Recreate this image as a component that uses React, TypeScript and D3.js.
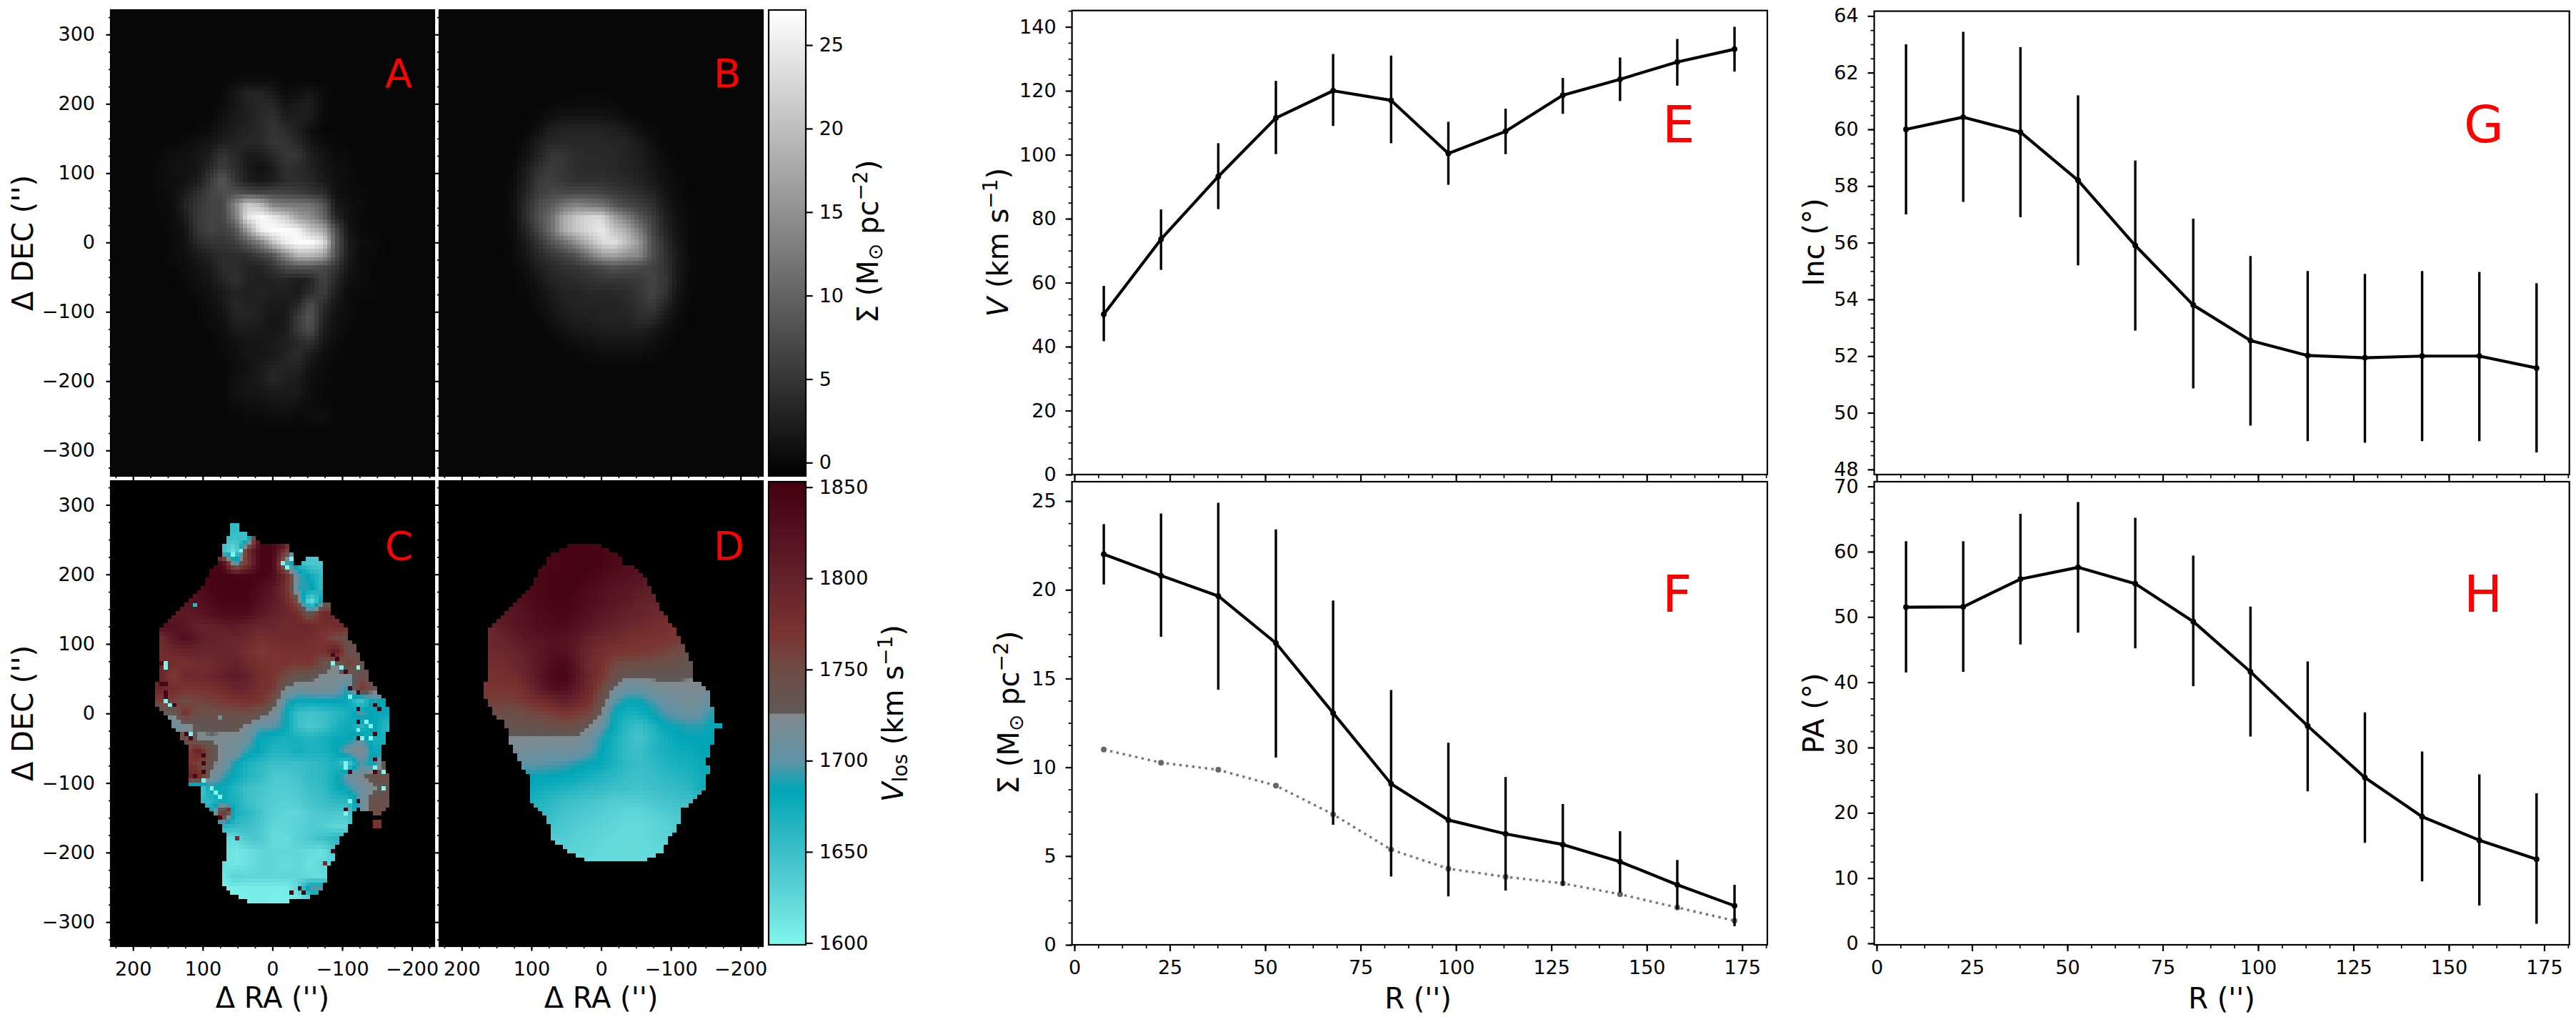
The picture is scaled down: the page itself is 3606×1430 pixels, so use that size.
import { useEffect, useRef } from "react";
import * as d3 from "d3";

// radial profiles
const R_ARCSEC = [7.7, 22.7, 37.7, 52.8, 67.8, 83, 98, 113, 128, 143, 158, 173];
const V_MEAN = [50.1, 73.6, 93.2, 111.5, 120, 117, 100.4, 107.3, 118.6, 123.6, 129, 133];
const V_LOW = [41.7, 64, 83, 100.2, 109, 103.6, 90.6, 100.2, 112.8, 116.8, 121.6, 126];
const V_HIGH = [59, 82.9, 103.6, 123.1, 131.5, 131, 110.3, 114.4, 124, 130.4, 136.2, 140];
const SIGMA_MEAN = [22, 20.8, 19.65, 17, 13.06, 9.07, 7.03, 6.25, 5.65, 4.68, 3.38, 2.2];
const SIGMA_LOW = [20.3, 17.35, 14.37, 10.55, 6.76, 3.85, 2.73, 3.06, 3.34, 2.94, 2, 1.05];
const SIGMA_HIGH = [23.7, 24.3, 24.9, 23.4, 19.4, 14.35, 11.38, 9.45, 7.93, 6.4, 4.78, 3.38];
const SIGMA_DOTTED = [11, 10.26, 9.86, 8.97, 7.35, 5.36, 4.29, 3.83, 3.46, 2.85, 2.1, 1.36];
const INC_MEAN = [60, 60.43, 59.9, 58.2, 55.9, 53.8, 52.55, 52.02, 51.94, 52, 52, 51.58];
const INC_LOW = [57, 57.44, 56.9, 55.2, 52.9, 50.86, 49.55, 49, 48.94, 49, 49, 48.6];
const INC_HIGH = [63, 63.44, 62.9, 61.2, 58.9, 56.85, 55.53, 55, 54.9, 55, 54.97, 54.57];
const PA_MEAN = [51.5, 51.55, 55.8, 57.6, 55.1, 49.3, 41.6, 33.3, 25.4, 19.4, 15.8, 12.9];
const PA_LOW = [41.5, 41.6, 45.8, 47.6, 45.2, 39.4, 31.7, 23.3, 15.4, 9.5, 5.8, 3];
const PA_HIGH = [61.6, 61.6, 65.8, 67.6, 65.2, 59.4, 51.6, 43.2, 35.4, 29.4, 25.9, 23];

// map samples: columns are RA 180..-180, rows are DEC 270..-270, both every 18''
const GRID_RA = d3.range(180, -181, -18);
const GRID_DEC = d3.range(270, -271, -18);

const MAP_A = [
  [0,0,0,0,0,0,0,0,0,0,0,0,0,0,0,0,0,0,0,0,0],
  [0,0,0,0,0,0,0,0,0,0,0,0,0,0,0,0,0,0,0,0,0],
  [0,0,0,0,0,0,0,.5,.5,.5,.5,0,0,0,0,0,0,0,0,0,0],
  [0,0,0,0,0,0,.3,1.5,3,3,2,.5,1,1.5,.5,0,0,0,0,0,0],
  [0,0,0,0,0,0,.5,1.5,2.5,3.5,3.5,1.5,2,2.5,.5,0,0,0,0,0,0],
  [0,0,0,0,0,0,1,2,2.5,3.5,4.5,2.5,2.5,2,.3,0,0,0,0,0,0],
  [0,0,0,0,.2,.5,1.5,2.5,3,3.5,5,4,2.5,1,0,0,0,0,0,0,0],
  [0,0,0,.5,1,1.5,2.5,3,3.5,3.5,5,5,3.5,1.5,.5,.3,0,0,0,0,0],
  [0,.3,.7,1,1.5,2.5,5,3.5,2,2,3.5,5,5,2.5,1.5,.3,.3,0,0,0,0],
  [0,.5,1,1,1.5,3.5,6,4,2,1,2,4.5,4,3,1.5,.8,.5,0,0,0,0],
  [0,.5,.8,1.2,2,5.5,8.5,5,2.5,1.5,2.5,4,4,3.5,2,1,.5,0,0,0,0],
  [0,.3,.8,2,4,6.5,7.5,8,7,6.5,6.5,6.5,6,5,4,1,.5,.3,0,0,0],
  [0,.2,.5,3,5,6.5,6.5,14,22,20,14,13,12.5,12,9,2,1,.5,0,0,0],
  [0,.1,.5,2,5.5,6.5,6.5,12,24,27,25,22,17,15,11,3.5,1,.3,0,0,0],
  [0,0,.5,1,5,6.5,6,8,16,25,27,27,26,21,18,8,1.5,.3,0,0,0],
  [0,0,.5,1,3.5,5,5,6,9,13,20,25,27,27,24,9,2,.7,.5,0,0],
  [0,0,.5,.8,2,3,4,4,4,6,8,14,19,19,17,8,2,.3,.3,0,0],
  [0,0,0,.5,1.2,2,4,4,3,3,4.5,7,8,8,7,5,1.5,.5,0,0,0],
  [0,0,0,.3,1,1.5,3,4.5,3,2.5,3,3,2,3,6.5,3.5,1,.5,0,0,0],
  [0,0,0,0,.5,1,2,3,2.5,3,2.5,2.5,2,4,6,2.5,.5,.3,.3,0,0],
  [0,0,0,0,0,.7,1.5,3.5,3,2.5,2,2,3.5,7.5,4,1.5,.5,0,0,0,0],
  [0,0,0,0,0,.5,1,3,3,2.5,1.5,1.8,5.5,8.5,3,1,.5,0,0,0,0],
  [0,0,0,0,0,.2,.7,2,2,2,1.5,2,5.5,7.5,2.5,.8,.3,0,0,0,0],
  [0,0,0,0,0,0,.5,1,1.5,1.5,2,2.5,3.5,4.5,1.5,.5,0,0,0,0,0],
  [0,0,0,0,0,0,.3,.7,1.5,1.5,1.8,3,4,2,.8,.3,0,0,0,0,0],
  [0,0,0,0,0,0,0,.5,1,2,3,3,3,1.2,.5,0,0,0,0,0,0],
  [0,0,0,0,0,0,0,1,1.5,2,3.5,2.5,2,.8,.3,0,0,0,0,0,0],
  [0,0,0,0,0,0,0,1,1.5,1.5,2,2,2,.7,.2,0,0,0,0,0,0],
  [0,0,0,0,0,0,0,.5,.7,.8,1.2,1.5,1,.5,.3,0,0,0,0,0,0],
  [0,0,0,0,0,0,0,0,.3,.3,.5,.5,.3,.5,1,0,0,0,0,0,0],
  [0,0,0,0,0,0,0,0,0,0,0,0,0,0,0,0,0,0,0,0,0],
];

const MAP_B = [
  [0,0,0,0,0,0,0,0,0,0,0,0,0,0,0,0,0,0,0,0,0],
  [0,0,0,0,0,0,0,0,0,0,0,0,0,0,0,0,0,0,0,0,0],
  [0,0,0,0,0,0,0,0,0,0,0,0,0,0,0,0,0,0,0,0,0],
  [0,0,0,0,0,0,0,0,0,0,0,0,0,0,0,0,0,0,0,0,0],
  [0,0,0,0,0,0,.2,.3,.5,.5,.5,.3,0,0,0,0,0,0,0,0,0],
  [0,0,0,0,0,.3,1,1.5,1.5,1.5,1.5,1.2,.5,.2,0,0,0,0,0,0,0],
  [0,0,0,0,.1,1,2.5,3,3,3,3,2.5,2,1,.3,0,0,0,0,0,0],
  [0,0,0,0,.6,2.5,3.5,3.5,3.5,3.5,3.5,3.2,3,2,.8,.2,0,0,0,0,0],
  [0,0,0,.1,1,3,5,5,4,3.8,3.8,3.5,3,2.5,1.3,.4,0,0,0,0,0],
  [0,0,0,.3,2,4.5,5.5,5,4,3.8,3.8,3.5,3,2.5,1.7,.7,.2,0,0,0,0],
  [0,0,0,.5,2.5,5.5,6,5,4.5,4.5,4.5,4,3.5,3,2,1,.3,0,0,0,0],
  [0,0,0,.7,3,6,7,7,7,7,6.5,5.5,5,4,3,1.5,.5,0,0,0,0],
  [0,0,0,.7,4,7.5,9,12,14,13,12,9,7,6,4.5,2,.7,.2,0,0,0],
  [0,0,0,.7,4,8,11,18,21,23,23,17,13,9,6,3,1,.3,0,0,0],
  [0,0,0,.5,3,7,11,18,21,23,25,21,18,13,7,3.5,1.2,.3,0,0,0],
  [0,0,0,.4,2,5,8,11,15,19,23,24,20,16,8,4.5,1.5,.4,0,0,0],
  [0,0,0,.3,1.5,3.5,5,6.5,8,12,16,17,15,14,8,5,2,.4,0,0,0],
  [0,0,0,.2,.8,2.5,3.5,4.5,5,6,7,8,7.5,7,6.5,5,2,.4,0,0,0],
  [0,0,0,0,.5,1.5,3,3.5,4,4.5,5,5,5,5.5,6.5,5.5,2,.3,0,0,0],
  [0,0,0,0,.2,1,2,3,3,3.5,3.5,3.5,4,5,6.5,5,1.5,.2,0,0,0],
  [0,0,0,0,0,.6,1.5,2.5,3,3,3,3,3.5,4.5,5.5,3.5,1,0,0,0,0],
  [0,0,0,0,0,.2,1,2,2.5,2.5,3,3,3,4,4,2,.5,0,0,0,0],
  [0,0,0,0,0,0,.4,1,1.8,2,2.2,2.5,2.5,2.5,2,.8,.2,0,0,0,0],
  [0,0,0,0,0,0,0,.4,.8,1,1.5,1.5,1.5,1.5,1,.3,0,0,0,0,0],
  [0,0,0,0,0,0,0,0,.2,.4,.6,.7,.7,.6,.3,0,0,0,0,0,0],
  [0,0,0,0,0,0,0,0,0,0,.1,.1,.1,0,0,0,0,0,0,0,0],
  [0,0,0,0,0,0,0,0,0,0,0,0,0,0,0,0,0,0,0,0,0],
  [0,0,0,0,0,0,0,0,0,0,0,0,0,0,0,0,0,0,0,0,0],
  [0,0,0,0,0,0,0,0,0,0,0,0,0,0,0,0,0,0,0,0,0],
  [0,0,0,0,0,0,0,0,0,0,0,0,0,0,0,0,0,0,0,0,0],
  [0,0,0,0,0,0,0,0,0,0,0,0,0,0,0,0,0,0,0,0,0],
];

const MAP_C = [
  [1830,1830,1830,1830,1830,1830,1655,1655,1655,1830,1830,1830,1830,1830,1830,1830,1830,1830,1830,1830,1830],
  [1830,1830,1830,1830,1830,1830,1650,1650,1650,1840,1845,1845,1650,1650,1650,1650,1650,1650,1650,1650,1650],
  [1830,1830,1830,1830,1830,1830,1650,1610,1780,1845,1845,1770,1650,1640,1640,1640,1640,1640,1640,1640,1640],
  [1840,1840,1840,1840,1840,1840,1840,1700,1770,1845,1845,1700,1660,1640,1640,1640,1640,1640,1640,1640,1640],
  [1845,1845,1845,1845,1845,1845,1848,1845,1845,1845,1835,1790,1700,1680,1650,1650,1650,1650,1650,1650,1650],
  [1830,1830,1830,1830,1830,1845,1848,1848,1845,1835,1815,1780,1690,1690,1650,1650,1650,1650,1650,1650,1650],
  [1825,1825,1825,1815,1825,1835,1845,1845,1845,1825,1810,1790,1740,1610,1700,1700,1700,1700,1700,1700,1700],
  [1810,1810,1810,1810,1815,1825,1835,1835,1835,1815,1800,1795,1780,1730,1790,1790,1790,1790,1790,1790,1790],
  [1825,1825,1825,1815,1800,1800,1805,1810,1800,1790,1795,1780,1790,1790,1775,1780,1780,1780,1780,1780,1780],
  [1780,1780,1810,1830,1810,1800,1795,1795,1790,1775,1780,1785,1785,1780,1770,1750,1740,1740,1740,1740,1740],
  [1780,1780,1790,1795,1795,1795,1795,1790,1775,1765,1770,1775,1775,1775,1770,1810,1740,1740,1740,1740,1740],
  [1780,1780,1780,1775,1780,1785,1795,1800,1785,1775,1770,1770,1765,1770,1745,1720,1760,1740,1740,1740,1740],
  [1800,1800,1760,1790,1785,1790,1800,1810,1800,1780,1770,1750,1735,1730,1720,1722,1715,1740,1740,1740,1740],
  [1790,1790,1780,1770,1770,1775,1780,1795,1790,1775,1770,1725,1715,1720,1720,1715,1690,1770,1740,1740,1740],
  [1760,1760,1760,1750,1755,1760,1765,1770,1775,1770,1745,1695,1680,1680,1682,1683,1680,1640,1690,1680,1680],
  [1725,1725,1725,1775,1745,1740,1745,1745,1750,1735,1720,1685,1650,1645,1650,1660,1670,1700,1680,1680,1680],
  [1710,1710,1710,1710,1730,1733,1735,1733,1720,1700,1700,1685,1650,1640,1650,1665,1680,1660,1690,1660,1660],
  [1750,1750,1750,1750,1722,1722,1720,1718,1710,1680,1675,1670,1670,1665,1670,1680,1680,1700,1670,1670,1670],
  [1735,1735,1735,1735,1800,1740,1720,1715,1690,1680,1665,1665,1675,1668,1670,1680,1710,1730,1680,1680,1680],
  [1780,1780,1780,1780,1760,1735,1715,1685,1668,1660,1650,1650,1650,1655,1660,1670,1640,1700,1680,1745,1745],
  [1790,1790,1790,1790,1790,1720,1695,1680,1665,1655,1640,1640,1645,1655,1660,1675,1710,1720,1740,1745,1745],
  [1620,1620,1620,1620,1620,1680,1680,1665,1650,1645,1635,1635,1640,1650,1655,1675,1690,1710,1720,1740,1740],
  [1660,1660,1660,1660,1660,1660,1680,1670,1650,1640,1635,1630,1635,1645,1650,1660,1660,1700,1740,1740,1740],
  [1670,1670,1670,1670,1670,1670,1780,1670,1660,1645,1630,1625,1625,1635,1640,1640,1640,1700,1745,1745,1745],
  [1660,1660,1660,1660,1660,1660,1660,1655,1650,1640,1625,1625,1630,1635,1635,1625,1625,1700,1745,1745,1745],
  [1620,1620,1620,1620,1620,1620,1620,1620,1640,1640,1620,1620,1630,1640,1650,1660,1660,1660,1660,1660,1660],
  [1620,1620,1620,1620,1620,1620,1620,1610,1615,1625,1625,1625,1625,1620,1615,1640,1640,1640,1640,1640,1640],
  [1620,1620,1620,1620,1620,1620,1620,1610,1615,1625,1625,1620,1625,1615,1625,1625,1625,1625,1625,1625,1625],
  [1610,1610,1610,1610,1610,1610,1610,1630,1625,1625,1625,1625,1625,1620,1620,1620,1620,1620,1620,1620,1620],
  [1605,1605,1605,1605,1605,1605,1605,1605,1605,1608,1605,1605,1625,1700,1700,1700,1700,1700,1700,1700,1700],
  [1605,1605,1605,1605,1605,1605,1605,1605,1605,1605,1605,1605,1605,1605,1605,1605,1605,1605,1605,1605,1605],
];

const MAP_D = [
  [1845,1845,1845,1845,1845,1845,1845,1845,1845,1845,1845,1845,1845,1845,1845,1845,1845,1845,1845,1845,1845],
  [1845,1845,1845,1845,1845,1845,1845,1845,1845,1845,1845,1845,1845,1845,1845,1845,1845,1845,1845,1845,1845],
  [1845,1845,1845,1845,1845,1845,1845,1845,1846,1846,1845,1840,1835,1830,1830,1830,1830,1830,1830,1830,1830],
  [1840,1840,1840,1840,1840,1840,1840,1845,1848,1848,1845,1838,1832,1825,1825,1825,1825,1825,1825,1825,1825],
  [1840,1840,1840,1840,1840,1840,1845,1848,1848,1845,1838,1830,1825,1820,1815,1815,1815,1815,1815,1815,1815],
  [1835,1835,1835,1835,1835,1840,1845,1848,1845,1835,1828,1822,1815,1810,1805,1805,1805,1805,1805,1805,1805],
  [1825,1825,1825,1825,1830,1838,1845,1845,1840,1830,1825,1815,1810,1800,1798,1795,1795,1795,1795,1795,1795],
  [1815,1815,1815,1820,1825,1835,1840,1842,1835,1825,1815,1808,1800,1795,1790,1785,1780,1780,1780,1780,1780],
  [1790,1790,1805,1815,1822,1830,1835,1835,1825,1815,1805,1800,1790,1785,1782,1775,1770,1770,1770,1770,1770],
  [1790,1790,1795,1805,1815,1820,1825,1825,1815,1800,1790,1785,1778,1773,1772,1770,1765,1760,1760,1760,1760],
  [1785,1785,1790,1795,1805,1815,1825,1825,1810,1790,1780,1770,1768,1768,1765,1760,1750,1745,1745,1745,1745],
  [1780,1780,1780,1790,1800,1815,1830,1840,1815,1785,1775,1755,1750,1748,1745,1742,1740,1735,1735,1735,1735],
  [1772,1772,1775,1780,1795,1815,1835,1845,1820,1790,1770,1745,1728,1727,1730,1730,1728,1727,1727,1727,1727],
  [1770,1770,1768,1770,1782,1805,1825,1830,1810,1785,1755,1720,1708,1708,1715,1720,1722,1722,1722,1720,1720],
  [1762,1762,1760,1760,1768,1778,1790,1800,1790,1775,1740,1700,1685,1685,1695,1705,1712,1718,1712,1695,1695],
  [1745,1745,1745,1745,1750,1755,1760,1770,1765,1755,1725,1682,1670,1672,1684,1695,1703,1708,1702,1688,1688],
  [1735,1735,1735,1735,1738,1738,1745,1745,1742,1727,1705,1680,1660,1650,1665,1683,1686,1690,1690,1680,1680],
  [1722,1722,1722,1722,1725,1725,1722,1722,1722,1712,1690,1672,1655,1645,1660,1672,1682,1684,1684,1684,1684],
  [1720,1720,1720,1720,1715,1712,1710,1712,1710,1702,1684,1670,1655,1650,1662,1670,1675,1678,1684,1684,1684],
  [1702,1702,1702,1702,1702,1700,1698,1695,1690,1684,1680,1668,1658,1652,1657,1665,1670,1672,1680,1680,1680],
  [1686,1686,1686,1686,1686,1684,1684,1682,1678,1672,1665,1660,1652,1650,1652,1658,1662,1666,1675,1675,1675],
  [1680,1680,1680,1680,1680,1675,1672,1668,1662,1658,1655,1650,1648,1645,1648,1652,1655,1660,1675,1675,1675],
  [1672,1672,1672,1672,1672,1665,1660,1652,1648,1645,1640,1635,1635,1635,1640,1645,1648,1650,1650,1650,1650],
  [1660,1660,1660,1660,1660,1660,1652,1645,1640,1638,1632,1628,1625,1625,1630,1635,1640,1640,1640,1640,1640],
  [1645,1645,1645,1645,1645,1645,1645,1640,1635,1630,1628,1625,1622,1622,1625,1630,1635,1635,1635,1635,1635],
  [1635,1635,1635,1635,1635,1635,1635,1635,1630,1628,1625,1622,1620,1620,1625,1628,1628,1628,1628,1628,1628],
  [1628,1628,1628,1628,1628,1628,1628,1628,1628,1625,1622,1620,1620,1620,1622,1622,1622,1622,1622,1622,1622],
  [1620,1620,1620,1620,1620,1620,1620,1620,1620,1620,1620,1620,1620,1620,1620,1620,1620,1620,1620,1620,1620],
  [1620,1620,1620,1620,1620,1620,1620,1620,1620,1620,1620,1620,1620,1620,1620,1620,1620,1620,1620,1620,1620],
  [1620,1620,1620,1620,1620,1620,1620,1620,1620,1620,1620,1620,1620,1620,1620,1620,1620,1620,1620,1620,1620],
  [1620,1620,1620,1620,1620,1620,1620,1620,1620,1620,1620,1620,1620,1620,1620,1620,1620,1620,1620,1620,1620],
];

// [RA, DEC] outlines of the velocity maps
const OUTLINE_C: [number, number][] = [
  [56.8,273.6],[50.6,273.6],[44.5,261],[27,255],[15,243.5],[-21,243.5],[-27.5,231.7],[-27.5,217],[-38.5,213.7],
  [-50.8,225.8],[-63.4,225.8],[-74.4,213.7],[-74.4,161],[-80.5,161],[-86.6,143.6],[-92.5,137.7],[-104.4,126],
  [-109.5,109],[-116.4,98],[-122,89],[-128.3,74],[-134.5,61.4],[-140.3,46.7],[-146.4,39.4],[-152.2,28.3],
  [-158.4,21],[-164.2,8],[-170.3,2.6],[-170.3,-23],[-164.2,-26.7],[-164.2,-36],[-158.4,-43],[-158.4,-70.7],
  [-164.2,-78],[-164.2,-89],[-170.3,-92.8],[-170.3,-128.9],[-164.2,-133],[-158.4,-139.8],[-152.2,-146],
  [-145.5,-146],[-141.3,-139.8],[-121.5,-136.9],[-116.4,-140.5],[-109.5,-158.9],[-104.4,-170],[-98.3,-177],
  [-92.5,-188],[-86.6,-212],[-80.5,-219.4],[-74.4,-243],[-73.7,-254],[-63.4,-260],[-44.7,-266.4],[3.1,-272.7],
  [21,-272.7],[45.8,-266.4],[56.8,-260],[63,-254],[69,-249],[75,-243],[75,-219.4],[69,-212],[69,-170],[75,-159],
  [81,-146],[86.8,-140.5],[92.6,-133],[98.8,-126],[104.6,-126],[104.6,-104],[116.8,-104],[122.7,-98],[122.7,-47],
  [128.5,-39.5],[134.7,-26.7],[140.8,-19.5],[146.6,-10],[152.4,-3],[158.6,4.5],[164.4,10],[170.5,21],[170.5,46.7],
  [164.4,46.7],[164.4,120],[158.6,126],[152.4,132],[146.6,137.7],[140.8,143.6],[134.7,149.5],[128.5,155.4],
  [122.7,161],[116.8,167],[111,173],[104.6,179],[98.8,184.7],[92.6,196.5],[86.8,208],[81,214],[75,226],[69,243.5],[63,255],
];

const OUTLINE_D: [number, number][] = [
  [39.1,244.3],[15.2,244.3],[-8.7,237.4],[-21,231.3],[-27.1,225],[-27.1,214],[-39.4,214],[-50.4,208],[-62.7,195.6],
  [-62.7,183.3],[-68.5,183.3],[-74.3,172.3],[-80.4,160],[-86.6,147.3],[-92.7,141],[-98.9,129],[-105,123],
  [-109.8,111.3],[-116.3,99.7],[-122.4,87.4],[-128.2,75.4],[-134.4,63.4],[-134.4,45.6],[-140.9,45.6],[-152,32.5],
  [-158.3,27],[-158.3,9.3],[-164.4,9.3],[-164.4,-13.7],[-170.6,-13.7],[-170.6,-19.9],[-164.4,-19.9],[-164.4,-44.5],
  [-158.3,-44.5],[-158.3,-61.7],[-152,-61.7],[-152,-74.3],[-158.3,-74.3],[-158.3,-86.7],[-152,-86.7],[-152,-104.5],
  [-140.9,-116.5],[-128.2,-129],[-116.3,-135.3],[-116.3,-146.6],[-110,-158.6],[-104.3,-170.3],[-92.7,-188.8],
  [-86.6,-201],[-74.3,-206],[-56.5,-212.4],[15.2,-212.4],[33,-206],[50.7,-194.6],[63,-188.4],[69.2,-182.6],
  [75.3,-158.6],[81.4,-146.6],[92.7,-134.6],[105,-128.5],[105,-86],[110.8,-80.5],[117,-68.5],[123.5,-55.8],
  [128.9,-44.5],[134.7,-38.4],[134.7,-20.6],[140.9,-20.6],[140.9,-8.6],[153.2,-3],[159.3,9.3],[164.4,10.3],
  [164.4,21.6],[170.6,21.6],[170.6,45.6],[164.4,45.6],[164.4,111.3],[159.3,123.3],[147,135.3],[134.7,147.3],
  [123.5,160],[110.8,172.3],[98.9,184],[92.7,195.3],[86.9,208],[75.3,225],[69.2,231.3],[56.9,237.4],
];

// single noisy cells in map C: [RA, DEC, velocity]
const SPECKLES_C: [number, number, number][] = [
  [42.4,234.6,1600],[54.4,228.4,1600],[-12,217.5,1600],[-20.6,211,1600],[-24,223,1600],[114,156.8,1660],
  [151.7,71.7,1600],[151.7,66,1600],[158.6,71.7,1845],[158.6,43,1845],[152,43,1845],[156,28.3,1845],
  [150.6,22.8,1845],[150.6,18.4,1600],[144.6,13,1600],[138.4,13.7,1845],[-84,85,1845],[-90,79.7,1845],
  [-89.4,72.4,1600],[-95.8,65.8,1600],[-102.8,60.6,1845],[-125,65.8,1600],[-113,36.4,1845],[-113,26.5,1600],
  [-125,29.4,1845],[-149,13.7,1845],[-155.3,6.3,1845],[-125,7,1845],[-125,-12,1845],[-131.8,-12,1600],
  [-138,-17.5,1600],[-125,-23,1600],[-143.7,-28.4,1845],[-125,-35,1845],[-131,-35,1600],[-137.9,-35,1600],
  [126,-28.6,1845],[120,-28.6,1600],[120,-35,1845],[102,-58,1845],[102,-70.7,1845],[-102.7,-74.4,1600],
  [-102.7,-80,1600],[109,-89,1845],[102,-85.5,1845],[102,-98,1600],[89.5,-106.8,1600],[83.4,-113,1600],
  [78.2,-120,1600],[-149,-65,1845],[-143.7,-77.4,1600],[-155.8,-83.6,1600],[-113,-83.6,1845],[-149,-83.6,1845],
  [-161.6,-107.5,1600],[-119.8,-126,1845],[-113,-126,1600],[-102.8,-136.8,1845],[-102.8,-143,1600],
  [66.3,-136.8,1770],[72.5,-149.7,1845],[53.7,-179,1780],[-84,-197.4,1845],[-77.3,-215.8,1780],[-24.2,-257,1845],
  [-41,-251,1845],[-47.5,-257,1845],[72.5,-5.4,1720],[-146,-153,1770],[-152,-153,1770],[-146,-159,1770],[-152,-159,1770],
];

const VELOCITY_STOPS = [1600, 1625, 1650, 1684, 1700, 1725.5, 1726, 1750, 1770, 1800, 1825, 1853];
const VELOCITY_COLORS = ["#80f5ee", "#5fd6d8", "#3dbfc8", "#00a6b6", "#5f93a5", "#80898d", "#5e5855", "#6f4c45", "#7a3330", "#63212a", "#54101e", "#43000f"];

const MAP_TICKS_RA = [200, 100, 0, -100, -200];
const MAP_TICKS_DEC = [300, 200, 100, 0, -100, -200, -300];
const R_TICKS = [0, 25, 50, 75, 100, 125, 150, 175];
const SIGMA_BAR_TICKS = [0, 5, 10, 15, 20, 25];
const VELOCITY_BAR_TICKS = [1600, 1650, 1700, 1750, 1800, 1850];

const FONT = "'DejaVu Sans', sans-serif";
const TICK_FONT = 27;
const LABEL_FONT = 40;

type Part = { text: string; kind?: "sub" | "sup"; italic?: boolean };
type G = d3.Selection<SVGGElement, unknown, null, undefined>;

const minorBetween = (lo: number, hi: number, step: number) =>
  d3.range(Math.ceil(lo / step), Math.floor(hi / step) + 1).map((k) => k * step);

function sampleGrid(rows: number[][], ra: number, dec: number) {
  const fx = Math.max(0, Math.min(GRID_RA.length - 1.001, (GRID_RA[0] - ra) / 18));
  const fy = Math.max(0, Math.min(GRID_DEC.length - 1.001, (GRID_DEC[0] - dec) / 18));
  const i = Math.floor(fx);
  const j = Math.floor(fy);
  const top = d3.interpolateNumber(rows[j][i], rows[j][i + 1])(fx - i);
  const bottom = d3.interpolateNumber(rows[j + 1][i], rows[j + 1][i + 1])(fx - i);
  return top + (bottom - top) * (fy - j);
}

function drawLabel(g: G, x: number, y: number, rotate: number, parts: Part[], size = LABEL_FONT) {
  const t = g
    .append("text")
    .attr("transform", `translate(${x},${y}) rotate(${rotate})`)
    .attr("text-anchor", "middle")
    .attr("font-family", FONT)
    .attr("font-size", size)
    .attr("fill", "#000");
  let shift = 0;
  parts.forEach((p) => {
    const target = p.kind === "sup" ? -0.38 * size : p.kind === "sub" ? 0.16 * size : 0;
    t.append("tspan")
      .attr("dy", target - shift)
      .attr("font-size", p.kind ? size * 0.7 : size)
      .attr("font-style", p.italic ? "italic" : "normal")
      .attr("xml:space", "preserve")
      .text(p.text);
    shift = target;
  });
}

function styleAxis(axis: G) {
  axis.select(".domain").remove();
  axis.selectAll("line").attr("stroke", "#000").attr("stroke-width", 2.2);
  axis.selectAll("text").attr("font-family", FONT).attr("font-size", TICK_FONT).attr("fill", "#000");
}

function drawAxes(
  g: G,
  x: d3.ScaleLinear<number, number>,
  y: d3.ScaleLinear<number, number>,
  opts: { xTicks: number[]; yTicks: number[]; xMinor: number; yMinor: number; xLabels: boolean; yLabels: boolean; major: number; minor: number }
) {
  const [x0, x1] = x.range();
  const [y0, y1] = y.range();
  const xLo = Math.min(...x.domain());
  const xHi = Math.max(...x.domain());
  const yLo = Math.min(...y.domain());
  const yHi = Math.max(...y.domain());
  const pad = 22 - opts.major;

  const bottom = g.append("g").attr("transform", `translate(0,${y0})`);
  bottom.call(d3.axisBottom(x).tickValues(minorBetween(xLo, xHi, opts.xMinor)).tickSize(opts.minor).tickFormat(() => ""));
  styleAxis(bottom);
  bottom.selectAll("line").attr("stroke-width", 1.7);
  const left = g.append("g").attr("transform", `translate(${x0},0)`);
  left.call(d3.axisLeft(y).tickValues(minorBetween(yLo, yHi, opts.yMinor)).tickSize(opts.minor).tickFormat(() => ""));
  styleAxis(left);
  left.selectAll("line").attr("stroke-width", 1.7);

  const fmt = (d: d3.NumberValue) => String(d).replace("-", "\u2212");
  const bottomMajor = g.append("g").attr("transform", `translate(0,${y0})`);
  bottomMajor.call(
    d3.axisBottom(x).tickValues(opts.xTicks).tickSize(opts.major).tickPadding(pad).tickFormat((d) => (opts.xLabels ? fmt(d) : ""))
  );
  styleAxis(bottomMajor);
  const leftMajor = g.append("g").attr("transform", `translate(${x0},0)`);
  leftMajor.call(
    d3.axisLeft(y).tickValues(opts.yTicks).tickSize(opts.major).tickPadding(pad).tickFormat((d) => (opts.yLabels ? fmt(d) : ""))
  );
  styleAxis(leftMajor);

  g.append("rect")
    .attr("x", x0)
    .attr("y", y1)
    .attr("width", x1 - x0)
    .attr("height", y0 - y1)
    .attr("fill", "none")
    .attr("stroke", "#000")
    .attr("stroke-width", 2.2);
}

function drawMap(
  g: G,
  box: { left: number; right: number; top: number; bottom: number; centerX: number; centerY: number; scaleX: number; scaleY: number },
  background: string,
  colorOf: (ra: number, dec: number) => string | null,
  labels: { x: boolean; y: boolean },
  letter: string,
  letterX: number,
  letterY: number
) {
  const x = d3
    .scaleLinear()
    .domain([(box.centerX - box.left) / box.scaleX, (box.centerX - box.right) / box.scaleX])
    .range([box.left, box.right]);
  const y = d3
    .scaleLinear()
    .domain([(box.centerY - box.bottom) / box.scaleY, (box.centerY - box.top) / box.scaleY])
    .range([box.bottom, box.top]);

  g.append("rect")
    .attr("x", box.left)
    .attr("y", box.top)
    .attr("width", box.right - box.left)
    .attr("height", box.bottom - box.top)
    .attr("fill", background);

  const cells: { ra: number; dec: number; color: string }[] = [];
  d3.range(-39, 39).forEach((n) => {
    d3.range(-56, 56).forEach((m) => {
      const ra = 3.4 + 6 * n;
      const dec = 0.5 + 6 * m;
      const color = colorOf(ra, dec);
      if (color) cells.push({ ra, dec, color });
    });
  });
  g.append("g")
    .attr("shape-rendering", "crispEdges")
    .selectAll("rect")
    .data(cells)
    .join("rect")
    .attr("x", (d) => x(d.ra + 3))
    .attr("y", (d) => y(d.dec + 3))
    .attr("width", x(0) - x(6) + 0.4)
    .attr("height", y(0) - y(6) + 0.4)
    .attr("fill", (d) => d.color);

  drawAxes(g, x, y, {
    xTicks: MAP_TICKS_RA,
    yTicks: MAP_TICKS_DEC,
    xMinor: 25,
    yMinor: 25,
    xLabels: labels.x,
    yLabels: labels.y,
    major: 6.5,
    minor: 3,
  });

  g.append("text")
    .attr("x", letterX)
    .attr("y", letterY)
    .attr("font-family", FONT)
    .attr("font-size", 56)
    .attr("fill", "#ff0000")
    .text(letter);
}

function drawColorbar(
  g: G,
  top: number,
  bottom: number,
  domain: [number, number],
  ticks: number[],
  colorOf: (v: number) => string
) {
  const y = d3.scaleLinear().domain(domain).range([bottom, top]);
  g.append("g")
    .attr("shape-rendering", "crispEdges")
    .selectAll("rect")
    .data(d3.range(top, bottom))
    .join("rect")
    .attr("x", 1076)
    .attr("y", (d) => d)
    .attr("width", 52)
    .attr("height", 1.4)
    .attr("fill", (d) => colorOf(y.invert(d + 0.5)));
  const axis = g.append("g").attr("transform", "translate(1128,0)");
  axis.call(d3.axisRight(y).tickValues(ticks).tickSize(9.7).tickPadding(9).tickFormat((d) => String(d)));
  styleAxis(axis);
  g.append("rect")
    .attr("x", 1076)
    .attr("y", top)
    .attr("width", 52)
    .attr("height", bottom - top)
    .attr("fill", "none")
    .attr("stroke", "#000")
    .attr("stroke-width", 2.2);
}

function drawProfile(
  g: G,
  box: { left: number; right: number; top: number; bottom: number },
  yDomain: [number, number],
  series: { mean: number[]; low: number[]; high: number[]; dotted?: number[] },
  yTicks: number[],
  yMinor: number,
  xLabels: boolean,
  letter: string,
  letterX: number,
  letterY: number
) {
  const x = d3.scaleLinear().domain([-0.64, 181.6]).range([box.left, box.right]);
  const y = d3.scaleLinear().domain(yDomain).range([box.bottom, box.top]);
  const line = d3
    .line<number>()
    .x((_, i) => x(R_ARCSEC[i]))
    .y((d) => y(d));

  if (series.dotted) {
    g.append("path")
      .attr("d", line(series.dotted))
      .attr("fill", "none")
      .attr("stroke", "#777")
      .attr("stroke-width", 3.4)
      .attr("stroke-dasharray", "3.4 5.6");
    g.append("g")
      .selectAll("circle")
      .data(series.dotted)
      .join("circle")
      .attr("cx", (_, i) => x(R_ARCSEC[i]))
      .attr("cy", (d) => y(d))
      .attr("r", 4)
      .attr("fill", "#666");
  }

  g.append("g")
    .selectAll("line")
    .data(series.mean)
    .join("line")
    .attr("x1", (_, i) => x(R_ARCSEC[i]))
    .attr("x2", (_, i) => x(R_ARCSEC[i]))
    .attr("y1", (_, i) => y(series.low[i]))
    .attr("y2", (_, i) => y(series.high[i]))
    .attr("stroke", "#000")
    .attr("stroke-width", 3.4);
  g.append("path")
    .attr("d", line(series.mean))
    .attr("fill", "none")
    .attr("stroke", "#000")
    .attr("stroke-width", 4.2)
    .attr("stroke-linejoin", "round");
  g.append("g")
    .selectAll("circle")
    .data(series.mean)
    .join("circle")
    .attr("cx", (_, i) => x(R_ARCSEC[i]))
    .attr("cy", (d) => y(d))
    .attr("r", 4)
    .attr("fill", "#000");

  drawAxes(g, x, y, { xTicks: R_TICKS, yTicks, xMinor: 6.25, yMinor, xLabels, yLabels: true, major: 9, minor: 5 });

  g.append("text")
    .attr("x", letterX)
    .attr("y", letterY)
    .attr("font-family", FONT)
    .attr("font-size", 72)
    .attr("fill", "#ff0000")
    .text(letter);
}

export default function App() {
  const svgRef = useRef<SVGSVGElement>(null);

  useEffect(() => {
    if (!svgRef.current) return;
    const svg = d3.select(svgRef.current);
    svg.selectAll("*").remove();
    const root = svg.append("g") as unknown as G;

    const sigmaColor = d3.scaleLinear<string>().domain([-0.8, 27.1]).range(["#000000", "#ffffff"]).clamp(true);
    const velocityColor = d3.scaleLinear<string>().domain(VELOCITY_STOPS).range(VELOCITY_COLORS).clamp(true);

    const grayCell = (rows: number[][]) => (ra: number, dec: number) => {
      const v = sampleGrid(rows, ra, dec);
      return v > 0.05 ? sigmaColor(v) : null;
    };

    const speckleAt = new Map<string, number>();
    SPECKLES_C.forEach(([ra, dec, v]) => {
      const n = Math.round((ra - 3.4) / 6);
      const m = Math.round((dec - 0.5) / 6);
      speckleAt.set(`${n}|${m}`, v);
    });

    const cellC = (ra: number, dec: number) => {
      const key = `${Math.round((ra - 3.4) / 6)}|${Math.round((dec - 0.5) / 6)}`;
      const speckle = speckleAt.get(key);
      if (speckle !== undefined) return velocityColor(speckle);
      if (!d3.polygonContains(OUTLINE_C, [ra, dec])) return null;
      return velocityColor(sampleGrid(MAP_C, ra, dec));
    };
    const cellD = (ra: number, dec: number) => {
      if (!d3.polygonContains(OUTLINE_D, [ra, dec])) return null;
      return velocityColor(sampleGrid(MAP_D, ra, dec));
    };

    const row1 = { top: 14, bottom: 666, centerY: 339.3, scaleY: 0.97 };
    const row2 = { top: 673, bottom: 1324, centerY: 998.3, scaleY: 0.973 };
    const colA = { left: 155, right: 608, centerX: 381.4, scaleX: 0.976 };
    const colB = { left: 615, right: 1068, centerX: 841.5, scaleX: 0.976 };

    drawMap(root, { ...colA, ...row1 }, sigmaColor(0), grayCell(MAP_A), { x: false, y: true }, "A", 539, 122);
    drawMap(root, { ...colB, ...row1 }, sigmaColor(0), grayCell(MAP_B), { x: false, y: false }, "B", 999, 122);
    drawMap(root, { ...colA, ...row2 }, "#000", cellC, { x: true, y: true }, "C", 539, 783);
    drawMap(root, { ...colB, ...row2 }, "#000", cellD, { x: true, y: false }, "D", 999, 783);

    drawColorbar(root, 14, 666, [-0.8, 27.1], SIGMA_BAR_TICKS, (v) => sigmaColor(v));
    drawColorbar(root, 674, 1322, [1599, 1853], VELOCITY_BAR_TICKS, (v) => velocityColor(v));

    const colE = { left: 1500.6, right: 2474 };
    const colG = { left: 2623.6, right: 3596.7 };
    drawProfile(root, { ...colE, top: 14.7, bottom: 664 }, [0, 145.1],
      { mean: V_MEAN, low: V_LOW, high: V_HIGH }, d3.range(0, 141, 20), 5, false, "E", 2327, 199);
    drawProfile(root, { ...colE, top: 674, bottom: 1322 }, [0, 26.09],
      { mean: SIGMA_MEAN, low: SIGMA_LOW, high: SIGMA_HIGH, dotted: SIGMA_DOTTED }, d3.range(0, 26, 5), 1.25, true, "F", 2327, 856);
    drawProfile(root, { ...colG, top: 15.6, bottom: 664 }, [47.82, 64.17],
      { mean: INC_MEAN, low: INC_LOW, high: INC_HIGH }, d3.range(48, 65, 2), 0.5, false, "G", 3449, 199);
    drawProfile(root, { ...colG, top: 674, bottom: 1322 }, [-0.22, 70.72],
      { mean: PA_MEAN, low: PA_LOW, high: PA_HIGH }, d3.range(0, 71, 10), 2.5, true, "H", 3449, 856);

    const plain = (text: string): Part[] => [{ text }];
    const sigmaUnit: Part[] = [{ text: "\u03a3 (M" }, { text: "\u2299", kind: "sub" }, { text: " pc" }, { text: "\u22122", kind: "sup" }, { text: ")" }];

    drawLabel(root, 46, 340, -90, plain("\u0394 DEC ('')"));
    drawLabel(root, 46, 998, -90, plain("\u0394 DEC ('')"));
    drawLabel(root, 381.4, 1410, 0, plain("\u0394 RA ('')"));
    drawLabel(root, 841.5, 1410, 0, plain("\u0394 RA ('')"));
    drawLabel(root, 1229, 338, -90, sigmaUnit);
    drawLabel(root, 1264, 998, -90, [
      { text: "V", italic: true },
      { text: "los", kind: "sub" },
      { text: " (km s" },
      { text: "\u22121", kind: "sup" },
      { text: ")" },
    ]);
    drawLabel(root, 1411, 339, -90, [{ text: "V", italic: true }, { text: " (km s" }, { text: "\u22121", kind: "sup" }, { text: ")" }]);
    drawLabel(root, 1426, 997, -90, sigmaUnit);
    drawLabel(root, 1985, 1411, 0, plain("R ('')"));
    drawLabel(root, 2553, 339, -90, plain("Inc (\u00b0)"));
    drawLabel(root, 2553, 998, -90, plain("PA (\u00b0)"));
    drawLabel(root, 3110, 1411, 0, plain("R ('')"));
  }, []);

  return (
    <svg
      ref={svgRef}
      width={3606}
      height={1430}
      style={{ position: "absolute", left: 0, top: 0, background: "#fff", display: "block" }}
    />
  );
}
